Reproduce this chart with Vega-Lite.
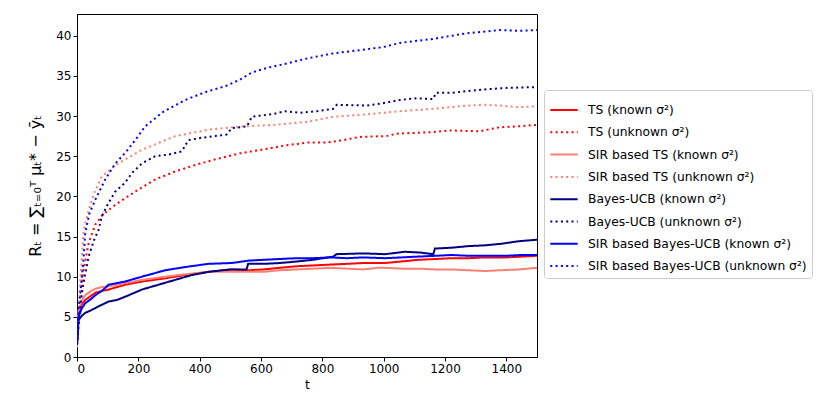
{
  "$schema": "https://vega.github.io/schema/vega-lite/v6.json",
  "width": 460,
  "height": 343,
  "autosize": {"type": "none"},
  "padding": {"left": 77, "top": 14, "right": 294, "bottom": 49},
  "background": "white",
  "config": {
    "font": "DejaVu Sans",
    "view": {"stroke": "black", "strokeWidth": 1},
    "axis": {
      "domainColor": "black",
      "tickColor": "black",
      "tickSize": 4,
      "labelColor": "black",
      "labelFontSize": 12,
      "labelPadding": 2,
      "titleColor": "black",
      "titleFontWeight": "normal",
      "titleFontSize": 12.5,
      "grid": false
    },
    "legend": {
      "labelFontSize": 12.3,
      "labelColor": "black",
      "labelLimit": 0,
      "symbolType": "stroke",
      "symbolStrokeWidth": 2,
      "symbolSize": 750,
      "strokeColor": "#cccccc",
      "fillColor": "white",
      "cornerRadius": 3,
      "padding": 5,
      "rowPadding": 0.3,
      "labelOffset": 9
    }
  },
  "data": {
    "values": [
      {"s": "TS (known σ²)", "t": 0, "y": 1.5},
      {"s": "TS (known σ²)", "t": 5, "y": 5.5},
      {"s": "TS (known σ²)", "t": 15, "y": 6.5},
      {"s": "TS (known σ²)", "t": 27, "y": 7.1},
      {"s": "TS (known σ²)", "t": 45, "y": 7.6},
      {"s": "TS (known σ²)", "t": 60, "y": 8.0},
      {"s": "TS (known σ²)", "t": 80, "y": 8.2},
      {"s": "TS (known σ²)", "t": 103, "y": 8.4},
      {"s": "TS (known σ²)", "t": 130, "y": 8.7},
      {"s": "TS (known σ²)", "t": 157, "y": 9.0},
      {"s": "TS (known σ²)", "t": 212, "y": 9.4},
      {"s": "TS (known σ²)", "t": 250, "y": 9.6},
      {"s": "TS (known σ²)", "t": 288, "y": 9.8},
      {"s": "TS (known σ²)", "t": 353, "y": 10.2},
      {"s": "TS (known σ²)", "t": 429, "y": 10.6},
      {"s": "TS (known σ²)", "t": 505, "y": 10.9},
      {"s": "TS (known σ²)", "t": 560, "y": 10.8},
      {"s": "TS (known σ²)", "t": 608, "y": 10.9},
      {"s": "TS (known σ²)", "t": 660, "y": 11.1},
      {"s": "TS (known σ²)", "t": 716, "y": 11.3},
      {"s": "TS (known σ²)", "t": 770, "y": 11.4},
      {"s": "TS (known σ²)", "t": 825, "y": 11.5},
      {"s": "TS (known σ²)", "t": 880, "y": 11.6},
      {"s": "TS (known σ²)", "t": 933, "y": 11.7},
      {"s": "TS (known σ²)", "t": 1004, "y": 11.7},
      {"s": "TS (known σ²)", "t": 1060, "y": 11.9},
      {"s": "TS (known σ²)", "t": 1112, "y": 12.1},
      {"s": "TS (known σ²)", "t": 1170, "y": 12.2},
      {"s": "TS (known σ²)", "t": 1221, "y": 12.3},
      {"s": "TS (known σ²)", "t": 1275, "y": 12.3},
      {"s": "TS (known σ²)", "t": 1330, "y": 12.4},
      {"s": "TS (known σ²)", "t": 1400, "y": 12.4},
      {"s": "TS (known σ²)", "t": 1450, "y": 12.5},
      {"s": "TS (known σ²)", "t": 1500, "y": 12.6},

      {"s": "TS (unknown σ²)", "t": 0, "y": 1.5},
      {"s": "TS (unknown σ²)", "t": 10, "y": 7.0},
      {"s": "TS (unknown σ²)", "t": 20, "y": 10.5},
      {"s": "TS (unknown σ²)", "t": 38, "y": 14.2},
      {"s": "TS (unknown σ²)", "t": 60, "y": 16.5},
      {"s": "TS (unknown σ²)", "t": 81, "y": 17.6},
      {"s": "TS (unknown σ²)", "t": 103, "y": 18.3},
      {"s": "TS (unknown σ²)", "t": 135, "y": 19.2},
      {"s": "TS (unknown σ²)", "t": 190, "y": 20.6},
      {"s": "TS (unknown σ²)", "t": 255, "y": 22.1},
      {"s": "TS (unknown σ²)", "t": 320, "y": 23.1},
      {"s": "TS (unknown σ²)", "t": 385, "y": 23.9},
      {"s": "TS (unknown σ²)", "t": 450, "y": 24.6},
      {"s": "TS (unknown σ²)", "t": 537, "y": 25.4},
      {"s": "TS (unknown σ²)", "t": 602, "y": 25.8},
      {"s": "TS (unknown σ²)", "t": 689, "y": 26.4},
      {"s": "TS (unknown σ²)", "t": 754, "y": 26.7},
      {"s": "TS (unknown σ²)", "t": 814, "y": 26.7},
      {"s": "TS (unknown σ²)", "t": 868, "y": 27.0},
      {"s": "TS (unknown σ²)", "t": 922, "y": 27.4},
      {"s": "TS (unknown σ²)", "t": 1009, "y": 27.5},
      {"s": "TS (unknown σ²)", "t": 1042, "y": 27.8},
      {"s": "TS (unknown σ²)", "t": 1100, "y": 27.9},
      {"s": "TS (unknown σ²)", "t": 1161, "y": 28.0},
      {"s": "TS (unknown σ²)", "t": 1216, "y": 28.2},
      {"s": "TS (unknown σ²)", "t": 1313, "y": 28.1},
      {"s": "TS (unknown σ²)", "t": 1378, "y": 28.6},
      {"s": "TS (unknown σ²)", "t": 1433, "y": 28.7},
      {"s": "TS (unknown σ²)", "t": 1500, "y": 28.9},

      {"s": "SIR based TS (known σ²)", "t": 0, "y": 1.2},
      {"s": "SIR based TS (known σ²)", "t": 5, "y": 5.7},
      {"s": "SIR based TS (known σ²)", "t": 15, "y": 7.0},
      {"s": "SIR based TS (known σ²)", "t": 27, "y": 7.7},
      {"s": "SIR based TS (known σ²)", "t": 45, "y": 8.2},
      {"s": "SIR based TS (known σ²)", "t": 60, "y": 8.5},
      {"s": "SIR based TS (known σ²)", "t": 80, "y": 8.7},
      {"s": "SIR based TS (known σ²)", "t": 103, "y": 8.8},
      {"s": "SIR based TS (known σ²)", "t": 130, "y": 9.0},
      {"s": "SIR based TS (known σ²)", "t": 157, "y": 9.2},
      {"s": "SIR based TS (known σ²)", "t": 212, "y": 9.6},
      {"s": "SIR based TS (known σ²)", "t": 250, "y": 9.8},
      {"s": "SIR based TS (known σ²)", "t": 288, "y": 10.0},
      {"s": "SIR based TS (known σ²)", "t": 353, "y": 10.3},
      {"s": "SIR based TS (known σ²)", "t": 429, "y": 10.6},
      {"s": "SIR based TS (known σ²)", "t": 505, "y": 10.6},
      {"s": "SIR based TS (known σ²)", "t": 560, "y": 10.6},
      {"s": "SIR based TS (known σ²)", "t": 608, "y": 10.6},
      {"s": "SIR based TS (known σ²)", "t": 660, "y": 10.8},
      {"s": "SIR based TS (known σ²)", "t": 716, "y": 10.9},
      {"s": "SIR based TS (known σ²)", "t": 770, "y": 11.0},
      {"s": "SIR based TS (known σ²)", "t": 825, "y": 11.1},
      {"s": "SIR based TS (known σ²)", "t": 880, "y": 11.0},
      {"s": "SIR based TS (known σ²)", "t": 933, "y": 10.9},
      {"s": "SIR based TS (known σ²)", "t": 980, "y": 11.1},
      {"s": "SIR based TS (known σ²)", "t": 1004, "y": 11.1},
      {"s": "SIR based TS (known σ²)", "t": 1060, "y": 11.0},
      {"s": "SIR based TS (known σ²)", "t": 1112, "y": 11.0},
      {"s": "SIR based TS (known σ²)", "t": 1170, "y": 10.9},
      {"s": "SIR based TS (known σ²)", "t": 1221, "y": 10.9},
      {"s": "SIR based TS (known σ²)", "t": 1275, "y": 10.8},
      {"s": "SIR based TS (known σ²)", "t": 1330, "y": 10.7},
      {"s": "SIR based TS (known σ²)", "t": 1380, "y": 10.8},
      {"s": "SIR based TS (known σ²)", "t": 1440, "y": 10.9},
      {"s": "SIR based TS (known σ²)", "t": 1500, "y": 11.1},

      {"s": "SIR based TS (unknown σ²)", "t": 0, "y": 1.5},
      {"s": "SIR based TS (unknown σ²)", "t": 10, "y": 9.0},
      {"s": "SIR based TS (unknown σ²)", "t": 21, "y": 15.4},
      {"s": "SIR based TS (unknown σ²)", "t": 27, "y": 16.7},
      {"s": "SIR based TS (unknown σ²)", "t": 43, "y": 18.9},
      {"s": "SIR based TS (unknown σ²)", "t": 55, "y": 20.3},
      {"s": "SIR based TS (unknown σ²)", "t": 81, "y": 22.5},
      {"s": "SIR based TS (unknown σ²)", "t": 135, "y": 24.1},
      {"s": "SIR based TS (unknown σ²)", "t": 212, "y": 25.8},
      {"s": "SIR based TS (unknown σ²)", "t": 320, "y": 27.5},
      {"s": "SIR based TS (unknown σ²)", "t": 429, "y": 28.3},
      {"s": "SIR based TS (unknown σ²)", "t": 537, "y": 28.7},
      {"s": "SIR based TS (unknown σ²)", "t": 646, "y": 28.9},
      {"s": "SIR based TS (unknown σ²)", "t": 754, "y": 29.3},
      {"s": "SIR based TS (unknown σ²)", "t": 836, "y": 29.9},
      {"s": "SIR based TS (unknown σ²)", "t": 944, "y": 30.2},
      {"s": "SIR based TS (unknown σ²)", "t": 1053, "y": 30.6},
      {"s": "SIR based TS (unknown σ²)", "t": 1161, "y": 30.9},
      {"s": "SIR based TS (unknown σ²)", "t": 1270, "y": 31.3},
      {"s": "SIR based TS (unknown σ²)", "t": 1324, "y": 31.4},
      {"s": "SIR based TS (unknown σ²)", "t": 1380, "y": 31.3},
      {"s": "SIR based TS (unknown σ²)", "t": 1433, "y": 31.1},
      {"s": "SIR based TS (unknown σ²)", "t": 1500, "y": 31.2},

      {"s": "Bayes-UCB (known σ²)", "t": 0, "y": 1.5},
      {"s": "Bayes-UCB (known σ²)", "t": 5, "y": 4.6},
      {"s": "Bayes-UCB (known σ²)", "t": 15, "y": 5.1},
      {"s": "Bayes-UCB (known σ²)", "t": 27, "y": 5.5},
      {"s": "Bayes-UCB (known σ²)", "t": 45, "y": 5.8},
      {"s": "Bayes-UCB (known σ²)", "t": 70, "y": 6.3},
      {"s": "Bayes-UCB (known σ²)", "t": 103, "y": 6.9},
      {"s": "Bayes-UCB (known σ²)", "t": 130, "y": 7.1},
      {"s": "Bayes-UCB (known σ²)", "t": 157, "y": 7.5},
      {"s": "Bayes-UCB (known σ²)", "t": 212, "y": 8.4},
      {"s": "Bayes-UCB (known σ²)", "t": 266, "y": 9.0},
      {"s": "Bayes-UCB (known σ²)", "t": 320, "y": 9.6},
      {"s": "Bayes-UCB (known σ²)", "t": 374, "y": 10.2},
      {"s": "Bayes-UCB (known σ²)", "t": 429, "y": 10.6},
      {"s": "Bayes-UCB (known σ²)", "t": 499, "y": 10.9},
      {"s": "Bayes-UCB (known σ²)", "t": 553, "y": 10.9},
      {"s": "Bayes-UCB (known σ²)", "t": 558, "y": 11.6},
      {"s": "Bayes-UCB (known σ²)", "t": 610, "y": 11.6},
      {"s": "Bayes-UCB (known σ²)", "t": 662, "y": 11.7},
      {"s": "Bayes-UCB (known σ²)", "t": 720, "y": 11.9},
      {"s": "Bayes-UCB (known σ²)", "t": 770, "y": 12.1},
      {"s": "Bayes-UCB (known σ²)", "t": 836, "y": 12.5},
      {"s": "Bayes-UCB (known σ²)", "t": 846, "y": 12.8},
      {"s": "Bayes-UCB (known σ²)", "t": 933, "y": 12.9},
      {"s": "Bayes-UCB (known σ²)", "t": 1004, "y": 12.8},
      {"s": "Bayes-UCB (known σ²)", "t": 1069, "y": 13.1},
      {"s": "Bayes-UCB (known σ²)", "t": 1120, "y": 13.0},
      {"s": "Bayes-UCB (known σ²)", "t": 1162, "y": 12.8},
      {"s": "Bayes-UCB (known σ²)", "t": 1167, "y": 13.5},
      {"s": "Bayes-UCB (known σ²)", "t": 1220, "y": 13.6},
      {"s": "Bayes-UCB (known σ²)", "t": 1275, "y": 13.8},
      {"s": "Bayes-UCB (known σ²)", "t": 1330, "y": 13.9},
      {"s": "Bayes-UCB (known σ²)", "t": 1384, "y": 14.1},
      {"s": "Bayes-UCB (known σ²)", "t": 1438, "y": 14.4},
      {"s": "Bayes-UCB (known σ²)", "t": 1500, "y": 14.6},

      {"s": "Bayes-UCB (unknown σ²)", "t": 0, "y": 1.5},
      {"s": "Bayes-UCB (unknown σ²)", "t": 10, "y": 6.0},
      {"s": "Bayes-UCB (unknown σ²)", "t": 20, "y": 9.0},
      {"s": "Bayes-UCB (unknown σ²)", "t": 38, "y": 12.5},
      {"s": "Bayes-UCB (unknown σ²)", "t": 55, "y": 14.5},
      {"s": "Bayes-UCB (unknown σ²)", "t": 70, "y": 15.8},
      {"s": "Bayes-UCB (unknown σ²)", "t": 81, "y": 17.5},
      {"s": "Bayes-UCB (unknown σ²)", "t": 103, "y": 19.2},
      {"s": "Bayes-UCB (unknown σ²)", "t": 125, "y": 20.6},
      {"s": "Bayes-UCB (unknown σ²)", "t": 157, "y": 21.7},
      {"s": "Bayes-UCB (unknown σ²)", "t": 179, "y": 22.9},
      {"s": "Bayes-UCB (unknown σ²)", "t": 212, "y": 24.1},
      {"s": "Bayes-UCB (unknown σ²)", "t": 255, "y": 25.0},
      {"s": "Bayes-UCB (unknown σ²)", "t": 298, "y": 25.2},
      {"s": "Bayes-UCB (unknown σ²)", "t": 342, "y": 25.6},
      {"s": "Bayes-UCB (unknown σ²)", "t": 363, "y": 27.0},
      {"s": "Bayes-UCB (unknown σ²)", "t": 407, "y": 27.3},
      {"s": "Bayes-UCB (unknown σ²)", "t": 450, "y": 27.5},
      {"s": "Bayes-UCB (unknown σ²)", "t": 488, "y": 27.7},
      {"s": "Bayes-UCB (unknown σ²)", "t": 505, "y": 28.5},
      {"s": "Bayes-UCB (unknown σ²)", "t": 554, "y": 28.7},
      {"s": "Bayes-UCB (unknown σ²)", "t": 570, "y": 29.9},
      {"s": "Bayes-UCB (unknown σ²)", "t": 646, "y": 30.3},
      {"s": "Bayes-UCB (unknown σ²)", "t": 678, "y": 30.6},
      {"s": "Bayes-UCB (unknown σ²)", "t": 727, "y": 30.4},
      {"s": "Bayes-UCB (unknown σ²)", "t": 781, "y": 30.6},
      {"s": "Bayes-UCB (unknown σ²)", "t": 836, "y": 30.9},
      {"s": "Bayes-UCB (unknown σ²)", "t": 847, "y": 31.4},
      {"s": "Bayes-UCB (unknown σ²)", "t": 944, "y": 31.3},
      {"s": "Bayes-UCB (unknown σ²)", "t": 998, "y": 31.6},
      {"s": "Bayes-UCB (unknown σ²)", "t": 1053, "y": 32.0},
      {"s": "Bayes-UCB (unknown σ²)", "t": 1107, "y": 32.2},
      {"s": "Bayes-UCB (unknown σ²)", "t": 1161, "y": 32.1},
      {"s": "Bayes-UCB (unknown σ²)", "t": 1171, "y": 32.9},
      {"s": "Bayes-UCB (unknown σ²)", "t": 1226, "y": 32.9},
      {"s": "Bayes-UCB (unknown σ²)", "t": 1270, "y": 33.1},
      {"s": "Bayes-UCB (unknown σ²)", "t": 1324, "y": 33.3},
      {"s": "Bayes-UCB (unknown σ²)", "t": 1400, "y": 33.5},
      {"s": "Bayes-UCB (unknown σ²)", "t": 1500, "y": 33.6},

      {"s": "SIR based Bayes-UCB (known σ²)", "t": 0, "y": 2.0},
      {"s": "SIR based Bayes-UCB (known σ²)", "t": 5, "y": 5.0},
      {"s": "SIR based Bayes-UCB (known σ²)", "t": 15, "y": 6.0},
      {"s": "SIR based Bayes-UCB (known σ²)", "t": 27, "y": 6.7},
      {"s": "SIR based Bayes-UCB (known σ²)", "t": 45, "y": 7.2},
      {"s": "SIR based Bayes-UCB (known σ²)", "t": 60, "y": 7.7},
      {"s": "SIR based Bayes-UCB (known σ²)", "t": 80, "y": 8.2},
      {"s": "SIR based Bayes-UCB (known σ²)", "t": 92, "y": 8.6},
      {"s": "SIR based Bayes-UCB (known σ²)", "t": 103, "y": 9.0},
      {"s": "SIR based Bayes-UCB (known σ²)", "t": 130, "y": 9.2},
      {"s": "SIR based Bayes-UCB (known σ²)", "t": 157, "y": 9.4},
      {"s": "SIR based Bayes-UCB (known σ²)", "t": 212, "y": 10.0},
      {"s": "SIR based Bayes-UCB (known σ²)", "t": 250, "y": 10.4},
      {"s": "SIR based Bayes-UCB (known σ²)", "t": 288, "y": 10.8},
      {"s": "SIR based Bayes-UCB (known σ²)", "t": 353, "y": 11.2},
      {"s": "SIR based Bayes-UCB (known σ²)", "t": 429, "y": 11.6},
      {"s": "SIR based Bayes-UCB (known σ²)", "t": 505, "y": 11.7},
      {"s": "SIR based Bayes-UCB (known σ²)", "t": 560, "y": 12.0},
      {"s": "SIR based Bayes-UCB (known σ²)", "t": 608, "y": 12.1},
      {"s": "SIR based Bayes-UCB (known σ²)", "t": 660, "y": 12.2},
      {"s": "SIR based Bayes-UCB (known σ²)", "t": 716, "y": 12.3},
      {"s": "SIR based Bayes-UCB (known σ²)", "t": 770, "y": 12.3},
      {"s": "SIR based Bayes-UCB (known σ²)", "t": 825, "y": 12.4},
      {"s": "SIR based Bayes-UCB (known σ²)", "t": 880, "y": 12.3},
      {"s": "SIR based Bayes-UCB (known σ²)", "t": 933, "y": 12.4},
      {"s": "SIR based Bayes-UCB (known σ²)", "t": 1004, "y": 12.3},
      {"s": "SIR based Bayes-UCB (known σ²)", "t": 1060, "y": 12.4},
      {"s": "SIR based Bayes-UCB (known σ²)", "t": 1112, "y": 12.5},
      {"s": "SIR based Bayes-UCB (known σ²)", "t": 1170, "y": 12.6},
      {"s": "SIR based Bayes-UCB (known σ²)", "t": 1221, "y": 12.7},
      {"s": "SIR based Bayes-UCB (known σ²)", "t": 1275, "y": 12.6},
      {"s": "SIR based Bayes-UCB (known σ²)", "t": 1330, "y": 12.6},
      {"s": "SIR based Bayes-UCB (known σ²)", "t": 1400, "y": 12.6},
      {"s": "SIR based Bayes-UCB (known σ²)", "t": 1450, "y": 12.7},
      {"s": "SIR based Bayes-UCB (known σ²)", "t": 1500, "y": 12.7},

      {"s": "SIR based Bayes-UCB (unknown σ²)", "t": 0, "y": 2.0},
      {"s": "SIR based Bayes-UCB (unknown σ²)", "t": 5, "y": 6.0},
      {"s": "SIR based Bayes-UCB (unknown σ²)", "t": 11, "y": 8.0},
      {"s": "SIR based Bayes-UCB (unknown σ²)", "t": 21, "y": 12.0},
      {"s": "SIR based Bayes-UCB (unknown σ²)", "t": 27, "y": 15.5},
      {"s": "SIR based Bayes-UCB (unknown σ²)", "t": 40, "y": 17.8},
      {"s": "SIR based Bayes-UCB (unknown σ²)", "t": 60, "y": 19.6},
      {"s": "SIR based Bayes-UCB (unknown σ²)", "t": 92, "y": 22.1},
      {"s": "SIR based Bayes-UCB (unknown σ²)", "t": 125, "y": 24.1},
      {"s": "SIR based Bayes-UCB (unknown σ²)", "t": 157, "y": 25.4},
      {"s": "SIR based Bayes-UCB (unknown σ²)", "t": 190, "y": 27.0},
      {"s": "SIR based Bayes-UCB (unknown σ²)", "t": 222, "y": 28.7},
      {"s": "SIR based Bayes-UCB (unknown σ²)", "t": 280, "y": 30.5},
      {"s": "SIR based Bayes-UCB (unknown σ²)", "t": 353, "y": 32.0},
      {"s": "SIR based Bayes-UCB (unknown σ²)", "t": 420, "y": 33.0},
      {"s": "SIR based Bayes-UCB (unknown σ²)", "t": 483, "y": 33.7},
      {"s": "SIR based Bayes-UCB (unknown σ²)", "t": 530, "y": 34.5},
      {"s": "SIR based Bayes-UCB (unknown σ²)", "t": 569, "y": 35.4},
      {"s": "SIR based Bayes-UCB (unknown σ²)", "t": 620, "y": 36.0},
      {"s": "SIR based Bayes-UCB (unknown σ²)", "t": 668, "y": 36.4},
      {"s": "SIR based Bayes-UCB (unknown σ²)", "t": 754, "y": 37.2},
      {"s": "SIR based Bayes-UCB (unknown σ²)", "t": 836, "y": 37.8},
      {"s": "SIR based Bayes-UCB (unknown σ²)", "t": 944, "y": 38.3},
      {"s": "SIR based Bayes-UCB (unknown σ²)", "t": 1000, "y": 38.6},
      {"s": "SIR based Bayes-UCB (unknown σ²)", "t": 1053, "y": 39.1},
      {"s": "SIR based Bayes-UCB (unknown σ²)", "t": 1161, "y": 39.6},
      {"s": "SIR based Bayes-UCB (unknown σ²)", "t": 1270, "y": 40.3},
      {"s": "SIR based Bayes-UCB (unknown σ²)", "t": 1378, "y": 40.7},
      {"s": "SIR based Bayes-UCB (unknown σ²)", "t": 1440, "y": 40.6},
      {"s": "SIR based Bayes-UCB (unknown σ²)", "t": 1500, "y": 40.7}
    ]
  },
  "mark": {"type": "line", "strokeWidth": 2, "clip": true},
  "encoding": {
    "x": {
      "field": "t",
      "type": "quantitative",
      "title": "t",
      "scale": {"domain": [0, 1500], "nice": false, "zero": false},
      "axis": {"values": [0, 200, 400, 600, 800, 1000, 1200, 1400], "format": "d", "titlePadding": 4}
    },
    "y": {
      "field": "y",
      "type": "quantitative",
      "title": "Rₜ = ∑ₜ₌₀ᵀ μₜ* − ȳₜ",
      "scale": {"domain": [0, 42.7], "nice": false, "zero": false},
      "axis": {"values": [0, 5, 10, 15, 20, 25, 30, 35, 40], "titlePadding": 12, "titleFontSize": 16}
    },
    "color": {
      "field": "s",
      "type": "nominal",
      "title": null,
      "scale": {
        "domain": [
          "TS (known σ²)",
          "TS (unknown σ²)",
          "SIR based TS (known σ²)",
          "SIR based TS (unknown σ²)",
          "Bayes-UCB (known σ²)",
          "Bayes-UCB (unknown σ²)",
          "SIR based Bayes-UCB (known σ²)",
          "SIR based Bayes-UCB (unknown σ²)"
        ],
        "range": ["#ff0000", "#ff0000", "#fa8072", "#fa8072", "#000080", "#000080", "#0000ff", "#0000ff"]
      },
      "legend": {"orient": "none", "legendX": 467, "legendY": 76}
    },
    "strokeDash": {
      "field": "s",
      "type": "nominal",
      "title": null,
      "scale": {
        "domain": [
          "TS (known σ²)",
          "TS (unknown σ²)",
          "SIR based TS (known σ²)",
          "SIR based TS (unknown σ²)",
          "Bayes-UCB (known σ²)",
          "Bayes-UCB (unknown σ²)",
          "SIR based Bayes-UCB (known σ²)",
          "SIR based Bayes-UCB (unknown σ²)"
        ],
        "range": [[1, 0], [2, 3.3], [1, 0], [2, 3.3], [1, 0], [2, 3.3], [1, 0], [2, 3.3]]
      },
      "legend": {"orient": "none", "legendX": 467, "legendY": 76}
    },
    "order": {"field": "t", "type": "quantitative"}
  }
}
